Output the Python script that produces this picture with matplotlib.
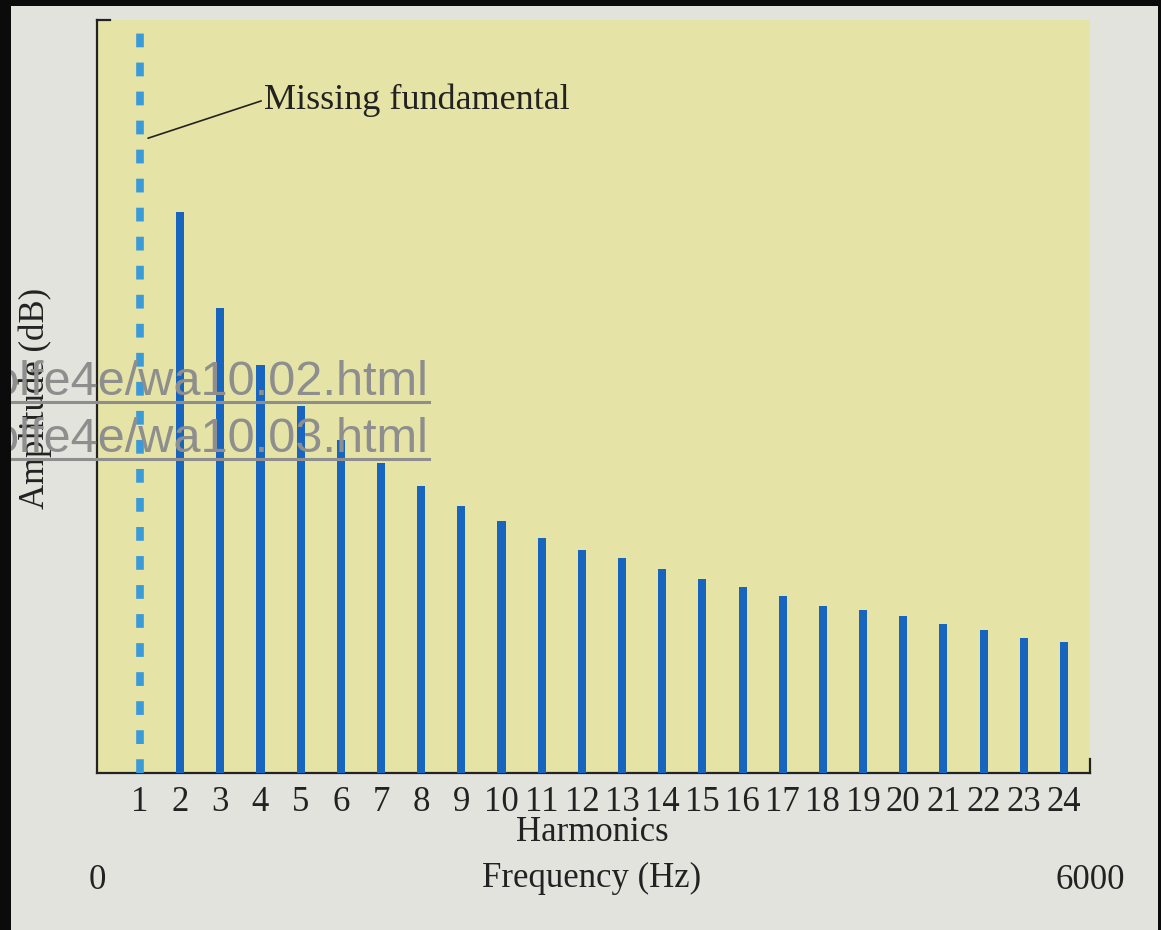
import matplotlib
matplotlib.use("Agg")
import matplotlib.pyplot as plt
from matplotlib.lines import Line2D
from matplotlib.patches import Rectangle

# ---- data ----
harmonics = list(range(2, 25))
amplitudes = [74.5, 61.8, 54.2, 48.7, 44.2, 41.2, 38.1, 35.5, 33.5, 31.2, 29.6,
              28.6, 27.1, 25.8, 24.7, 23.5, 22.2, 21.6, 20.9, 19.8, 19.0, 17.9, 17.4]
missing_harmonic = 1
tick_positions = list(range(1, 25))
tick_labels = [str(t) for t in tick_positions]
freq_labels = ["0", "6000"]
url_lines = ["wolfe4e/wa10.02.html", "wolfe4e/wa10.03.html"]

W, H = 1161, 930
fig = plt.figure(figsize=(W / 100, H / 100), dpi=100)
fig.patch.set_facecolor("#e3e3de")

def fx(px):
    return px / W

def fy(py):
    return 1 - py / H

serif = ["Liberation Serif", "DejaVu Serif"]

ax = fig.add_axes([fx(97), fy(773), fx(1090) - fx(97), fy(20) - fy(773)])
ax.set_facecolor("#e5e3a6")
ax.set_xlim(-0.07, 24.65)
ax.set_ylim(0, 100)

for s in ["top", "right"]:
    ax.spines[s].set_visible(False)
for s in ["left", "bottom"]:
    ax.spines[s].set_color("#222222")
    ax.spines[s].set_linewidth(1.6)

# bars
ax.bar(harmonics, amplitudes, width=0.2, color="#1865c0", zorder=3)
# missing fundamental
ax.axvline(missing_harmonic, ymin=0, ymax=0.997, color="#3b9ad8", lw=5.5,
           dashes=(1.8, 2.0), zorder=3)

ax.set_xticks(tick_positions)
ax.set_xticklabels(tick_labels, family=serif, fontsize=25, color="#222222")
ax.tick_params(axis="x", length=0, pad=9)
ax.set_yticks([])

# small end ticks (bracket style)
ax.add_line(Line2D([0, 0.013], [1, 1], transform=ax.transAxes, color="#222222",
                   lw=1.6, clip_on=False))
ax.add_line(Line2D([1, 1], [0, 0.018], transform=ax.transAxes, color="#222222",
                   lw=1.6, clip_on=False))

# annotation
ax.annotate("Missing fundamental", xy=(missing_harmonic + 0.2, 84.3),
            xytext=(fx(264), fy(100)), textcoords="figure fraction",
            ha="left", va="center", family=serif, fontsize=26, color="#222222",
            arrowprops=dict(arrowstyle="-", color="#222222", lw=1.2,
                            shrinkA=0, shrinkB=0, relpos=(0, 0.5)))

# labels
fig.text(fx(35), fy(398), "Amplitude (dB)", rotation=90, ha="center", va="center",
         family=serif, fontsize=25, color="#222222")
fig.text(fx(592), fy(832), "Harmonics", ha="center", va="center",
         family=serif, fontsize=25, color="#222222")
fig.text(fx(592), fy(878), "Frequency (Hz)", ha="center", va="center",
         family=serif, fontsize=25, color="#222222")
fig.text(fx(97), fy(880), freq_labels[0], ha="center", va="center",
         family=serif, fontsize=25, color="#222222")
fig.text(fx(1090), fy(880), freq_labels[1], ha="center", va="center",
         family=serif, fontsize=25, color="#222222")

# overlay url text
for i, line in enumerate(url_lines):
    base = 395 + 57 * i
    fig.text(fx(428), fy(base), line, ha="right", va="baseline",
             family="Liberation Sans", fontsize=35, color="#8e8e8e", zorder=10)
    fig.add_artist(Line2D([0, fx(429)], [fy(base + 7)] * 2, color="#8e8e8e",
                          lw=2.2, zorder=10))

# dark frame edges
for (x0, y0, w, h) in [(0, 0, 11, H), (0, 0, W, 6), (1158, 0, 3, H)]:
    fig.add_artist(Rectangle((fx(x0), fy(y0 + h)), fx(w), h / H,
                             facecolor="#0b0b0b", edgecolor="none", zorder=20))

fig.savefig("out.png", dpi=100, facecolor=fig.get_facecolor())
